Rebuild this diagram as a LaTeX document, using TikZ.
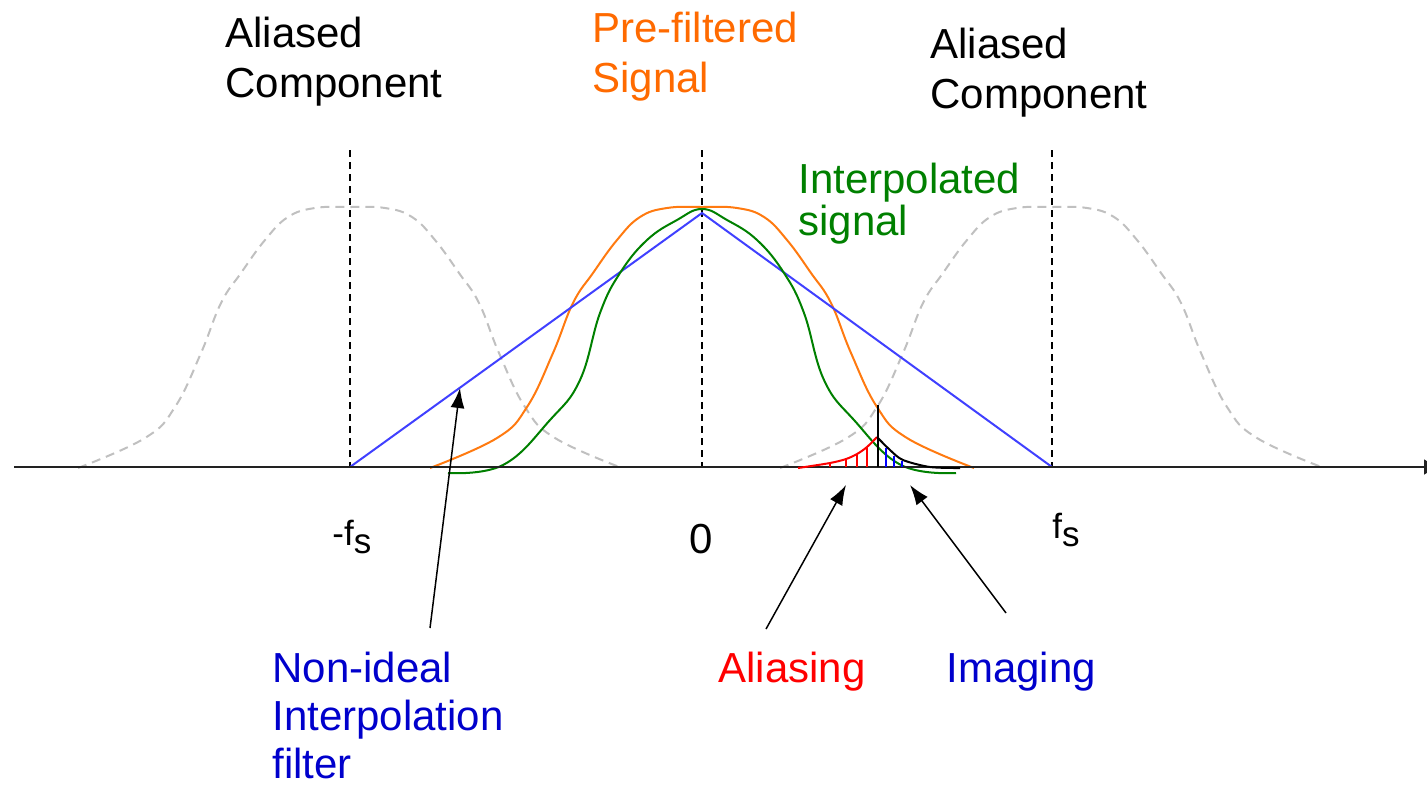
\documentclass[tikz,border=0pt]{standalone}
\usepackage{fontspec}
\setmainfont{Liberation Sans}
\usepackage{xcolor}
\usepackage{tikz}
\usetikzlibrary{arrows.meta}
\definecolor{aliascolor}{HTML}{C0C0C0}
\definecolor{prefiltcolor}{HTML}{FF7A10}
\definecolor{prefilttext}{HTML}{FF6A00}
\definecolor{interpcolor}{HTML}{008000}
\definecolor{filtercolor}{HTML}{4040FF}
\definecolor{bluetext}{HTML}{0000CC}
\definecolor{redtext}{HTML}{FF0000}
\definecolor{axiscolor}{HTML}{222222}
\tikzset{
  >=Latex,
  axis line/.style={
    draw=axiscolor,
    line width=1.2pt,
    -{Latex[length=8pt,width=8pt]}
  },
  band marker/.style={
    draw=black,
    line width=1pt,
    dash pattern=on 3.5pt off 2.5pt
  },
  aliased curve/.style={
    draw=aliascolor,
    line width=1pt,
    dash pattern=on 4.5pt off 3pt
  },
  prefiltered curve/.style={
    draw=prefiltcolor,
    line width=1pt
  },
  interpolated curve/.style={
    draw=interpcolor,
    line width=1pt
  },
  filter curve/.style={
    draw=filtercolor,
    line width=1pt
  },
  alias hatch/.style={
    draw=redtext,
    line width=1pt
  },
  image hatch/.style={
    draw=blue,
    line width=1pt
  },
  pointer/.style={
    draw=black,
    line width=0.75pt,
    -{Latex[length=10pt,width=7pt]}
  },
  label text/.style={
    inner sep=0pt,
    anchor=base west,
    align=left,
    font=\fontsize{21}{25}\selectfont
  },
  freq label/.style={
    inner sep=0pt,
    anchor=base west,
    font=\fontsize{17.5}{20}\selectfont
  }
}

\begin{document}
\begin{tikzpicture}[x=0.5pt,y=-0.5pt]
  \useasboundingbox (0,0) rectangle (1427,784);

  % shifted copies of the spectrum
  \foreach \s/\sty in {-352/aliased curve,350/aliased curve,0/prefiltered curve}{
    \draw[\sty,shift={(702+\s,0)}] plot[smooth,tension=0.7] coordinates {
      (-272,468) (-205,438) (-175,407) (-149,353) (-129,303) (-109,273)
      (-85,240) (-62,217) (-35,208) (0,207) (35,208) (62,217) (85,240)
      (109,273) (129,303) (149,353) (175,407) (205,438) (272,468)};
  }

  \foreach \x in {350,702,1052}{
    \draw[band marker] (\x,150) -- (\x,467);
  }

  \draw[filter curve] (350,467) -- (702,213) -- (1052,467);

  \draw[interpolated curve,shift={(702,0)}] plot[smooth,tension=0.7] coordinates {
    (-254,473) (-199,465) (-152,420) (-122,380) (-102,313) (-82,273)
    (-55,240) (-25,220) (0,209) (25,220) (55,240) (82,273) (102,313)
    (122,380) (152,420) (199,465) (254,473)};

  \draw[axis line] (14,467) -- (1440,467);

  % aliasing / imaging slivers
  \draw[alias hatch] plot[smooth] coordinates {
    (798,468) (830,463) (846,459) (857,454) (867,447) (877,437)};
  \foreach \x/\y in {830/463,846/459,857/454,867/447}{
    \draw[alias hatch] (\x,467) -- (\x,\y);
  }
  \draw[black,line width=1pt] plot[smooth] coordinates {
    (877,437) (890,450) (903,460) (930,467) (960,468)};
  \foreach \x/\y in {886/448,894/456,902/461}{
    \draw[image hatch] (\x,467) -- (\x,\y);
  }
  \draw[black,line width=1pt] (878,467) -- (878,405);

  \node[label text] (alias-left) at (225,97) {Aliased\\Component};
  \node[label text,text=prefilttext] (prefilt) at (592,92) {Pre-filtered\\Signal};
  \node[label text] (alias-right) at (930,108) {Aliased\\Component};
  \node[label text,text=interpcolor,font=\fontsize{21}{21}\selectfont]
    (interp) at (798,235) {Interpolated\\signal};

  \node[freq label] (neg-fs) at (332,545) {-f\raisebox{-4pt}{s}};
  \node[inner sep=0pt,anchor=base,font=\fontsize{21}{24}\selectfont] (zero) at (701,553) {0};
  \node[freq label] (pos-fs) at (1052,538) {f\raisebox{-4pt}{s}};

  \node[label text,text=bluetext,font=\fontsize{21}{24}\selectfont]
    (filter) at (272,778) {Non-ideal\\Interpolation\\filter};
  \node[label text,text=redtext] (aliasing) at (718,682) {Aliasing};
  \node[label text,text=bluetext] (imaging) at (946,682) {Imaging};

  \coordinate (filter-tail) at (430,628);
  \coordinate (filter-tip) at (460,388);
  \coordinate (aliasing-tail) at (766,629);
  \coordinate (aliasing-tip) at (846,485);
  \coordinate (imaging-tail) at (1006,613);
  \coordinate (imaging-tip) at (910,485);
  \draw[pointer] (filter-tail) -- (filter-tip);
  \draw[pointer] (aliasing-tail) -- (aliasing-tip);
  \draw[pointer] (imaging-tail) -- (imaging-tip);
\end{tikzpicture}
\end{document}
